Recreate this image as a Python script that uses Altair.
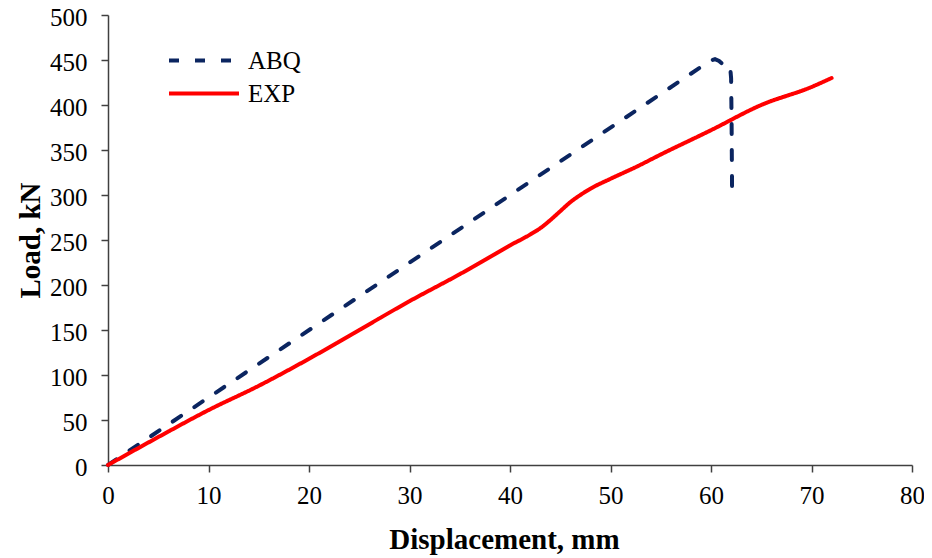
import altair as alt
import pandas as pd

# ABQ (numerical) curve
abq_x = [0, 59.9, 60.4, 60.8, 61.1, 61.4, 61.9, 62.0, 62.05, 62.1]
abq_y = [0, 449, 451, 449, 446, 447, 443, 430, 380, 300]

# EXP (experimental) curve
exp_x = [0, 5, 10, 15, 20, 25, 30, 35, 38, 40, 42, 43, 44, 45, 46, 47, 48, 50, 52.7, 55, 60, 65, 70, 72]
exp_y = [0, 31, 61, 88, 118, 150, 182, 212, 231, 244, 256, 263, 272, 282, 292, 300, 307, 318, 332, 345, 372, 400, 420, 430]

series = ["ABQ", "EXP"]
colors = ["#0b2560", "#ff0000"]
dashes = [[10, 16], [1, 0]]

x_ticks = list(range(0, 81, 10))
y_ticks = list(range(0, 501, 50))

abq = pd.DataFrame({"x": abq_x, "y": abq_y, "s": "ABQ", "i": range(len(abq_x))})
exp = pd.DataFrame({"x": exp_x, "y": exp_y, "s": "EXP", "i": range(len(exp_x))})

color = alt.Color("s:N", scale=alt.Scale(domain=series, range=colors),
                  legend=alt.Legend(title=None, orient="none", legendX=59, legendY=33,
                                    symbolType="stroke", symbolSize=4900,
                                    symbolStrokeWidth=4, labelFont="Liberation Serif",
                                    labelFontSize=25, labelColor="black", labelOffset=7,
                                    clipHeight=25, rowPadding=7))
dash = alt.StrokeDash("s:N", scale=alt.Scale(domain=series, range=dashes), legend=None)

xenc = alt.X("x:Q", title="Displacement, mm",
             scale=alt.Scale(domain=[0, 80], nice=False),
             axis=alt.Axis(values=x_ticks, titleBaseline="alphabetic", titleY=83,
                           titleX=396, labelPadding=11, labelFlush=False))
yenc = alt.Y("y:Q", title="Load, kN",
             scale=alt.Scale(domain=[0, 500], nice=False),
             axis=alt.Axis(values=y_ticks, titleBaseline="alphabetic", titleX=-69,
                           labelPadding=14, labelFlush=False, labelOffset=2))

def layer(df, interp):
    return alt.Chart(df).mark_line(strokeWidth=4, strokeCap="round",
                                   interpolate=interp).encode(
        x=xenc, y=yenc, color=color, strokeDash=dash, order=alt.Order("i:Q"))

chart = alt.layer(layer(abq, "linear"), layer(exp, "monotone")).properties(
    width=804, height=450,
    autosize=alt.AutoSizeParams(type="none"),
    padding={"left": 100, "top": 7, "right": 12, "bottom": 92},
).configure_view(stroke=None).configure_axis(
    grid=False, domainColor="#404040", tickColor="#404040", domainWidth=1.5,
    tickWidth=1.5, tickSize=7, labelFont="Liberation Serif", labelFontSize=25,
    labelColor="black", titleFont="Liberation Serif", titleFontSize=29,
    titleFontWeight="bold", titleColor="black",
)

chart.save("out.html", embed_options={"renderer": "svg", "actions": False})
